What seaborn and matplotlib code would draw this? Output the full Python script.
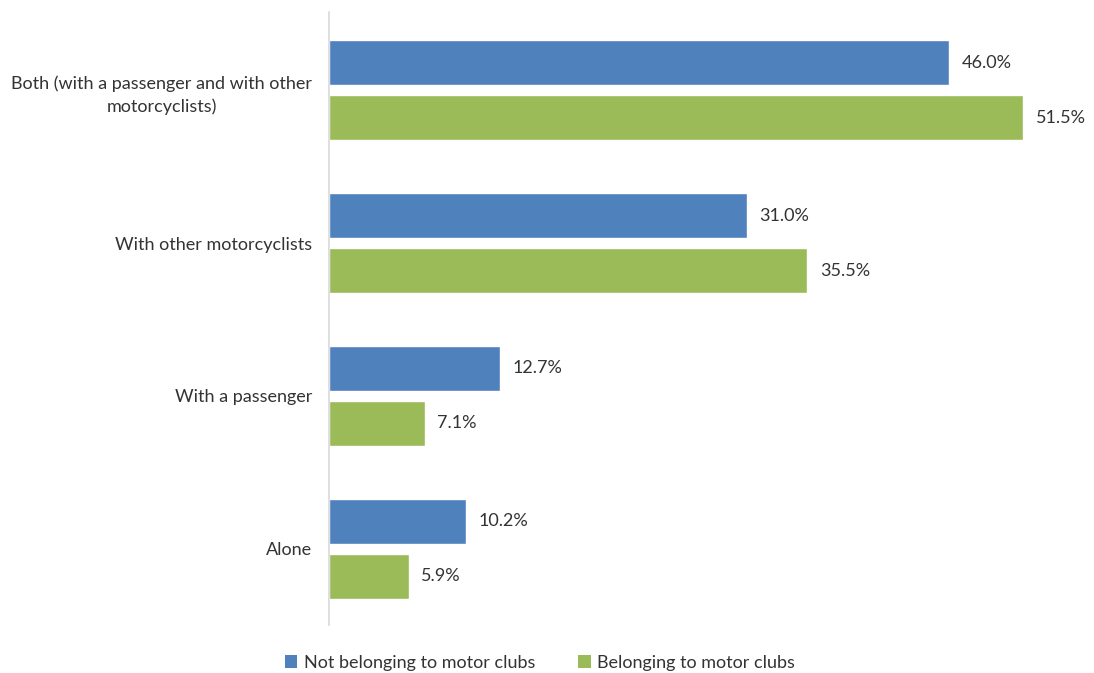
import matplotlib
matplotlib.use("Agg")
import matplotlib.pyplot as plt
import seaborn as sns
import pandas as pd
from matplotlib.patches import Patch

categories = [
    "Both (with a passenger and with other\nmotorcyclists)",
    "With other motorcyclists",
    "With a passenger",
    "Alone",
]
series_names = ["Not belonging to motor clubs", "Belonging to motor clubs"]
not_members = [46.0, 31.0, 12.7, 10.2]
members = [51.5, 35.5, 7.1, 5.9]
colors = ["#4F81BD", "#9BBB59"]

df = pd.DataFrame({
    "category": categories * 2,
    "group": [series_names[0]] * 4 + [series_names[1]] * 4,
    "share": not_members + members,
})

sns.set_theme(style="white")
plt.rcParams["font.family"] = ["Lato", "DejaVu Sans"]
text_color = "#333333"
fs = 13

fig = plt.figure(figsize=(10.94, 6.73), dpi=100)
ax = fig.add_axes([329 / 1094, 1 - 625 / 673, (1085 - 329) / 1094, (625 - 12) / 673])

sns.barplot(
    data=df, y="category", x="share", hue="group", orient="h",
    palette=colors, width=0.719, gap=0.18, ax=ax, legend=False,
    order=categories, hue_order=series_names, saturation=1,
)

for cont in ax.containers:
    ax.bar_label(cont, labels=[f"{b.get_width():.1f}%" for b in cont],
                 padding=9, fontsize=fs, color=text_color)

ax.set_xlim(0, 756 / 13.478)
ax.set_ylim(3.497, -0.51)
ax.set_xlabel("")
ax.set_ylabel("")
ax.set_xticks([])
ax.tick_params(axis="y", length=0, pad=12, labelsize=fs, labelcolor=text_color)
for lbl in ax.get_yticklabels():
    lbl.set_multialignment("center")
    lbl.set_linespacing(1.5)

for side in ["top", "right", "bottom"]:
    ax.spines[side].set_visible(False)
ax.spines["left"].set_color("#D9D9D9")
ax.spines["left"].set_linewidth(1.2)

handles = [Patch(facecolor=c, edgecolor="none") for c in colors]
fig.legend(handles, series_names, loc="center",
           bbox_to_anchor=(540 / 1094, 1 - 663 / 673), ncol=2, frameon=False,
           handlelength=0.7, handleheight=0.7, handletextpad=0.35,
           columnspacing=2.4, fontsize=fs, labelcolor=text_color)

fig.savefig("out.png", dpi=100, facecolor="white")
